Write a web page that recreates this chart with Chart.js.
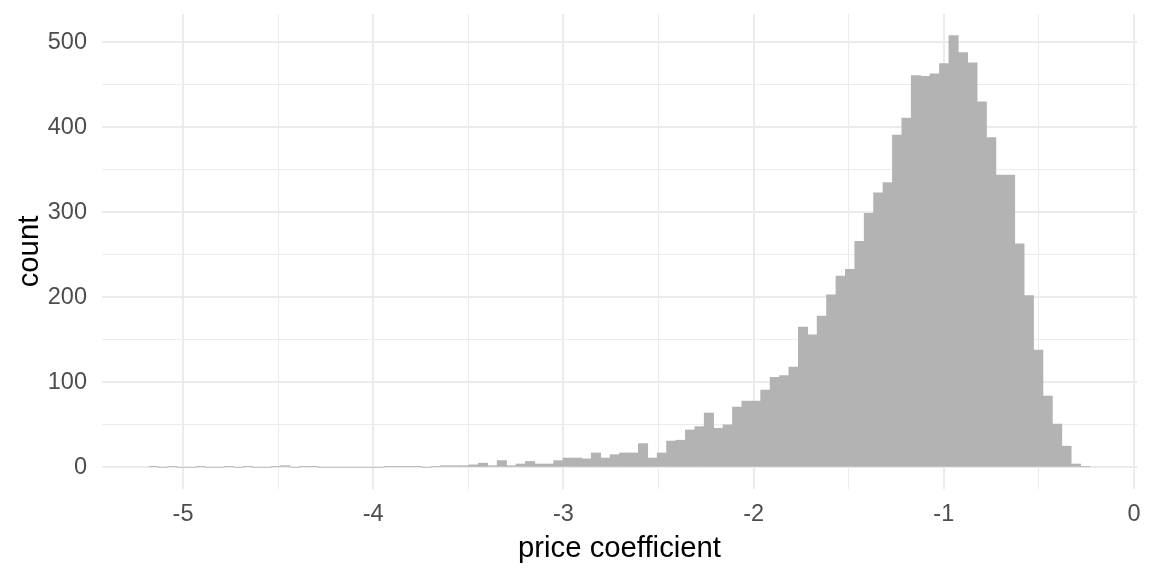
<!DOCTYPE html>
<html>
<head>
<meta charset="utf-8">
<script src="https://cdn.jsdelivr.net/npm/chart.js@4.4.1/dist/chart.umd.min.js"></script>
<style>
  html, body { margin: 0; padding: 0; background: #ffffff; }
  #wrap { width: 1152px; height: 576px; }
</style>
</head>
<body>
<div id="wrap"><canvas id="histo" width="1152" height="576"></canvas></div>
<script>
// histogram bins: left edge of the first bin and the bin width
const binStart = -5.179;
const binWidth = 0.04948;

// counts per bin (100 bins, left to right)
const counts = [
  1, 0, 1, 0, 0, 1, 0, 0, 1, 0,
  1, 0, 0, 1, 2, 0, 1, 1, 0, 0,
  0, 0, 0, 0, 0, 1, 1, 1, 1, 0,
  1, 2, 2, 2, 3, 5, 2, 8, 2, 4,
  7, 4, 4, 8, 11, 11, 10, 17, 11, 15,
  17, 17, 28, 11, 17, 31, 32, 44, 48, 64,
  46, 50, 71, 78, 78, 91, 106, 108, 118, 165,
  156, 178, 203, 225, 233, 266, 299, 323, 335, 391,
  411, 461, 460, 463, 475, 508, 488, 476, 430, 388,
  344, 344, 263, 202, 138, 84, 51, 25, 4, 1
];

const xTicks = [-5, -4.5, -4, -3.5, -3, -2.5, -2, -1.5, -1, -0.5, 0];
const yTicks = [0, 50, 100, 150, 200, 250, 300, 350, 400, 450, 500];

const binCenters = counts.map((c, i) => binStart + binWidth * (i + 0.5));
const punkte = counts.map((c, i) => ({ x: binCenters[i], y: c }));

const isMajor = (v, step) => Math.abs(v / step - Math.round(v / step)) < 1e-6;

const fontTick = { family: "'Liberation Sans', Arial, sans-serif", size: 23.5 };
const fontTitle = { family: "'Liberation Sans', Arial, sans-serif", size: 29.3 };

new Chart(document.getElementById('histo').getContext('2d'), {
  type: 'bar',
  data: {
    datasets: [{
      data: punkte,
      backgroundColor: '#b3b3b3',
      borderWidth: 0,
      barPercentage: 1,
      categoryPercentage: 1
    }]
  },
  options: {
    responsive: false,
    devicePixelRatio: 1,
    animation: false,
    layout: { padding: { top: 0, right: 15, left: 0, bottom: 0 } },
    plugins: { legend: { display: false }, tooltip: { enabled: false } },
    scales: {
      x: {
        type: 'linear',
        min: -5.426,
        max: 0.016,
        offset: false,
        afterBuildTicks: s => { s.ticks = xTicks.map(v => ({ value: v })); },
        afterFit: s => { s.height = 87; },
        ticks: {
          color: '#4d4d4d',
          font: fontTick,
          padding: 11,
          maxRotation: 0,
          autoSkip: false,
          callback: v => isMajor(v, 1) ? String(Math.round(v)) : ''
        },
        grid: {
          drawTicks: false,
          offset: false,
          color: '#ebebeb',
          lineWidth: c => isMajor(c.tick.value, 1) ? 2 : 1
        },
        border: { display: false },
        title: {
          display: true,
          text: 'price coefficient',
          color: '#000000',
          font: fontTitle,
          padding: { top: 0, bottom: 10 }
        }
      },
      y: {
        min: -25.4,
        max: 533.4,
        afterBuildTicks: s => { s.ticks = yTicks.map(v => ({ value: v })); },
        // fixed width, and the panel starts 14px below the top edge
        afterFit: s => { s.width = 102; s.paddingTop = 14; s.paddingBottom = 0; },
        ticks: {
          color: '#4d4d4d',
          font: fontTick,
          padding: 15,
          autoSkip: false,
          callback: v => isMajor(v, 100) ? String(v) : ''
        },
        grid: {
          drawTicks: false,
          color: '#ebebeb',
          lineWidth: c => isMajor(c.tick.value, 100) ? 2 : 1
        },
        border: { display: false },
        title: {
          display: true,
          text: 'count',
          color: '#000000',
          font: fontTitle,
          padding: { top: 12, bottom: 0 }
        }
      }
    }
  }
});
</script>
</body>
</html>
